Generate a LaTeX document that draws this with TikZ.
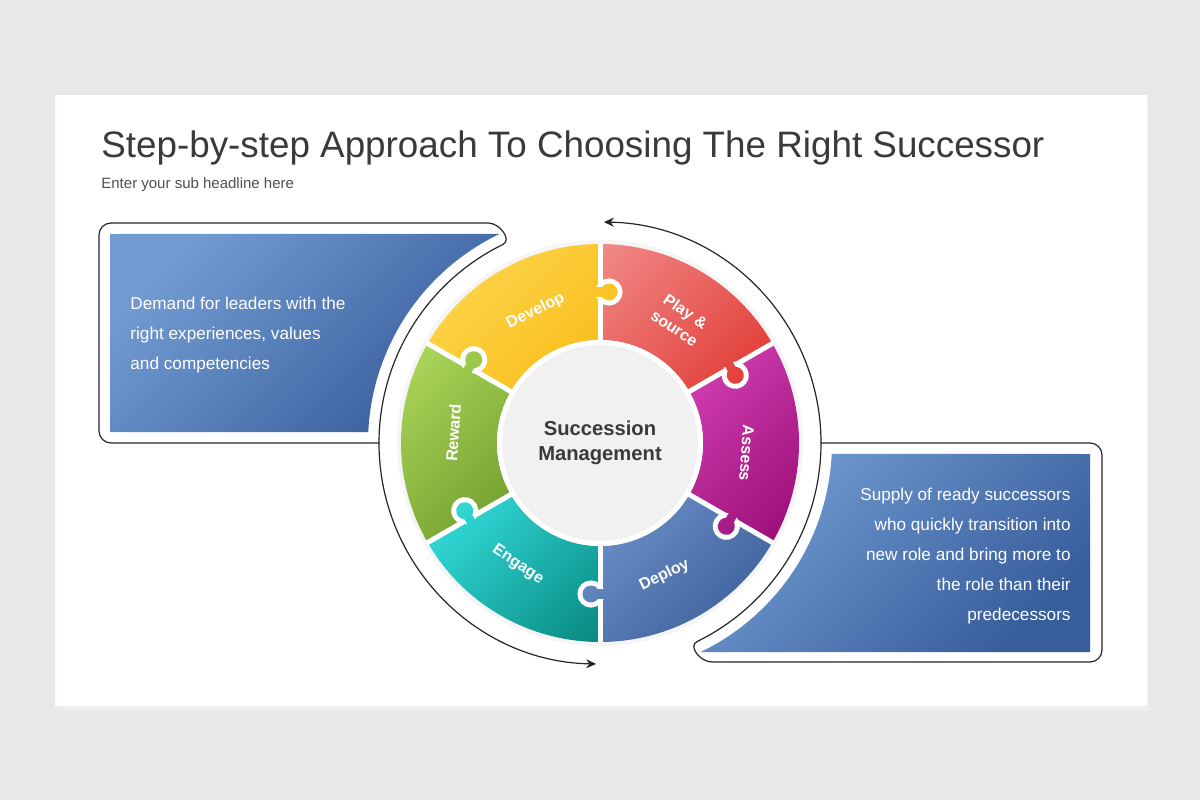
\documentclass[tikz,border=0pt]{standalone}
\usepackage{fontspec}
\setmainfont{Liberation Sans}
\usetikzlibrary{arrows.meta}

\definecolor{backdrop}{HTML}{E9E7E8}
\definecolor{inkgray}{HTML}{3A3A3A}
\definecolor{subgray}{HTML}{505050}
\definecolor{hubgray}{HTML}{F1F1F1}
\definecolor{panelA}{HTML}{729BD2}
\definecolor{panelB}{HTML}{375D9B}
\definecolor{devA}{HTML}{FDD752}
\definecolor{devB}{HTML}{F8BA10}
\definecolor{playA}{HTML}{F08A88}
\definecolor{playB}{HTML}{E1362F}
\definecolor{assA}{HTML}{DC48BE}
\definecolor{assB}{HTML}{990C74}
\definecolor{depA}{HTML}{7398CF}
\definecolor{depB}{HTML}{395A97}
\definecolor{engA}{HTML}{37E2E2}
\definecolor{engB}{HTML}{078880}
\definecolor{rewA}{HTML}{AED95B}
\definecolor{rewB}{HTML}{679326}

\begin{document}
\begin{tikzpicture}[
  x=0.5pt, y=0.5pt,
  outline/.style={draw=black!85, line width=0.6pt},
  turn arrow/.style={outline, -{Stealth[length=5pt, width=4.5pt]}},
  panel/.style={left color=panelA, right color=panelB, shading angle=45},
  cut/.style={draw=white, line width=2.5pt},
  notch/.style={draw=white, line width=5pt},
  piece label/.style={text=white, inner sep=0pt, align=center, font=\bfseries\fontsize{8}{10}\selectfont},
  note/.style={text=white, inner sep=0pt, font=\fontsize{8.6}{15}\selectfont}
]

% backdrop and slide
\fill[backdrop] (0,0) rectangle (1200,800);
\fill[black!7] (57,89) rectangle (1149,703);
\fill[white] (55,94) rectangle (1147,705);

\coordinate (C) at (600,357);
\coordinate (ltip) at ([shift={(C)}]116:221);
\coordinate (rtip) at ([shift={(C)}]-64:221);
\coordinate (ljoin) at ([shift={(C)}]180:221);
\coordinate (rjoin) at ([shift={(C)}]0:221);

% titles
\node[anchor=base west, inner sep=0pt, text=inkgray, font=\fontsize{18.4}{22}\selectfont] (title) at (101,643) {Step-by-step Approach To Choosing The Right Successor};
\node[anchor=base west, inner sep=0pt, text=subgray, font=\fontsize{7.5}{9}\selectfont] (subtitle) at (101,611) {Enter your sub headline here};

% outlines and turning arrows
\draw[outline] (ltip) arc[start angle=116, end angle=180, radius=221] -- (111,357)
  arc[start angle=270, end angle=180, radius=12] -- (99,565)
  arc[start angle=180, end angle=90, radius=12] -- (488,577)
  .. controls (500,577) and (512,560) .. (ltip);
\draw[outline] (rtip) arc[start angle=-64, end angle=0, radius=221] -- (1090,357)
  arc[start angle=90, end angle=0, radius=12] -- (1102,150)
  arc[start angle=0, end angle=-90, radius=12] -- (712,138)
  .. controls (700,138) and (688,154) .. (rtip);
\draw[turn arrow] (rjoin) arc[start angle=0, end angle=89, radius=221];
\draw[turn arrow] (ljoin) arc[start angle=180, end angle=269, radius=221];

% blue panels
\shade[panel] ([shift={(C)}]115.7:232) arc[start angle=115.7, end angle=177.3, radius=232] -- (110,368) -- (110,566) -- cycle;
\shade[panel] ([shift={(C)}]-64.3:232) arc[start angle=-64.3, end angle=-2.7, radius=232] -- (1090,346) -- (1090,148) -- cycle;

% puzzle ring
\fill[black!4] (C) circle[radius=203];
\foreach \a/\lite/\dark in {90/devA/devB, 30/playA/playB, -30/assA/assB, -90/depA/depB, -150/engA/engB, 150/rewA/rewB} {
  \pgfmathsetmacro{\b}{\a+60}
  \pgfmathsetmacro{\m}{\a+30}
  \begin{scope}
    \clip (C) ++(\a:103) -- ++(\a:96) arc[start angle=\a, end angle=\b, radius=199] -- ++(\b:-96) arc[start angle=\b, end angle=\a, radius=103] -- cycle;
    \shade[left color=\lite, right color=\dark, shading angle=45] (C) ++(\m:150) ++(-105,-105) rectangle ++(210,210);
  \end{scope}
}
\foreach \a in {90, 30, -30, -90, -150, 150}
  \draw[cut] (C) ++(\a:98) -- ++(\a:102);
\foreach \a/\lite/\dark in {90/devA/devB, 30/playA/playB, -30/assA/assB, -90/depA/depB, -150/engA/engB, 150/rewA/rewB} {
  \pgfmathsetmacro{\m}{\a+30}
  \draw[notch, shift={(C)}, rotate=\a] (151,-9) circle[radius=8.5] (146.5,0) -- (146.5,-8) (155.5,0) -- (155.5,-8);
  \begin{scope}
    \clip[shift={(C)}, rotate=\a] (151,-9) circle[radius=8.5];
    \shade[left color=\lite, right color=\dark, shading angle=45] (C) ++(\m:150) ++(-105,-105) rectangle ++(210,210);
  \end{scope}
  \begin{scope}
    \clip[shift={(C)}, rotate=\a] (146.5,-8) -- (155.5,-8) -- (155.5,5) -- (146.5,5) -- cycle;
    \shade[left color=\lite, right color=\dark, shading angle=45] (C) ++(\m:150) ++(-105,-105) rectangle ++(210,210);
  \end{scope}
}
\fill[white] (C) circle[radius=103];
\filldraw[fill=hubgray, draw=black!6, line width=0.8pt] (C) circle[radius=97];

% labels
\node[align=center, inner sep=0pt, text=inkgray, font=\bfseries\fontsize{10.1}{12.5}\selectfont] (hub) at (C) {Succession\\Management};
\foreach \ang/\rot/\txt [count=\i] in {116/26/Develop, 57/-34/{Play \&\\source}, -4/-94/Assess, -64/26/Deploy, -124/-34/Engage, 176/86/Reward}
  \node[piece label, rotate=\rot] (piece\i) at ([shift={(C)}]\ang:147) {\txt};

\node[note, anchor=west, align=left] (demand) at (130,465) {Demand for leaders with the\\right experiences, values\\and competencies};
\node[note, anchor=east, align=right] (supply) at (1071,244) {Supply of ready successors\\who quickly transition into\\new role and bring more to\\the role than their\\predecessors};
\end{tikzpicture}
\end{document}
